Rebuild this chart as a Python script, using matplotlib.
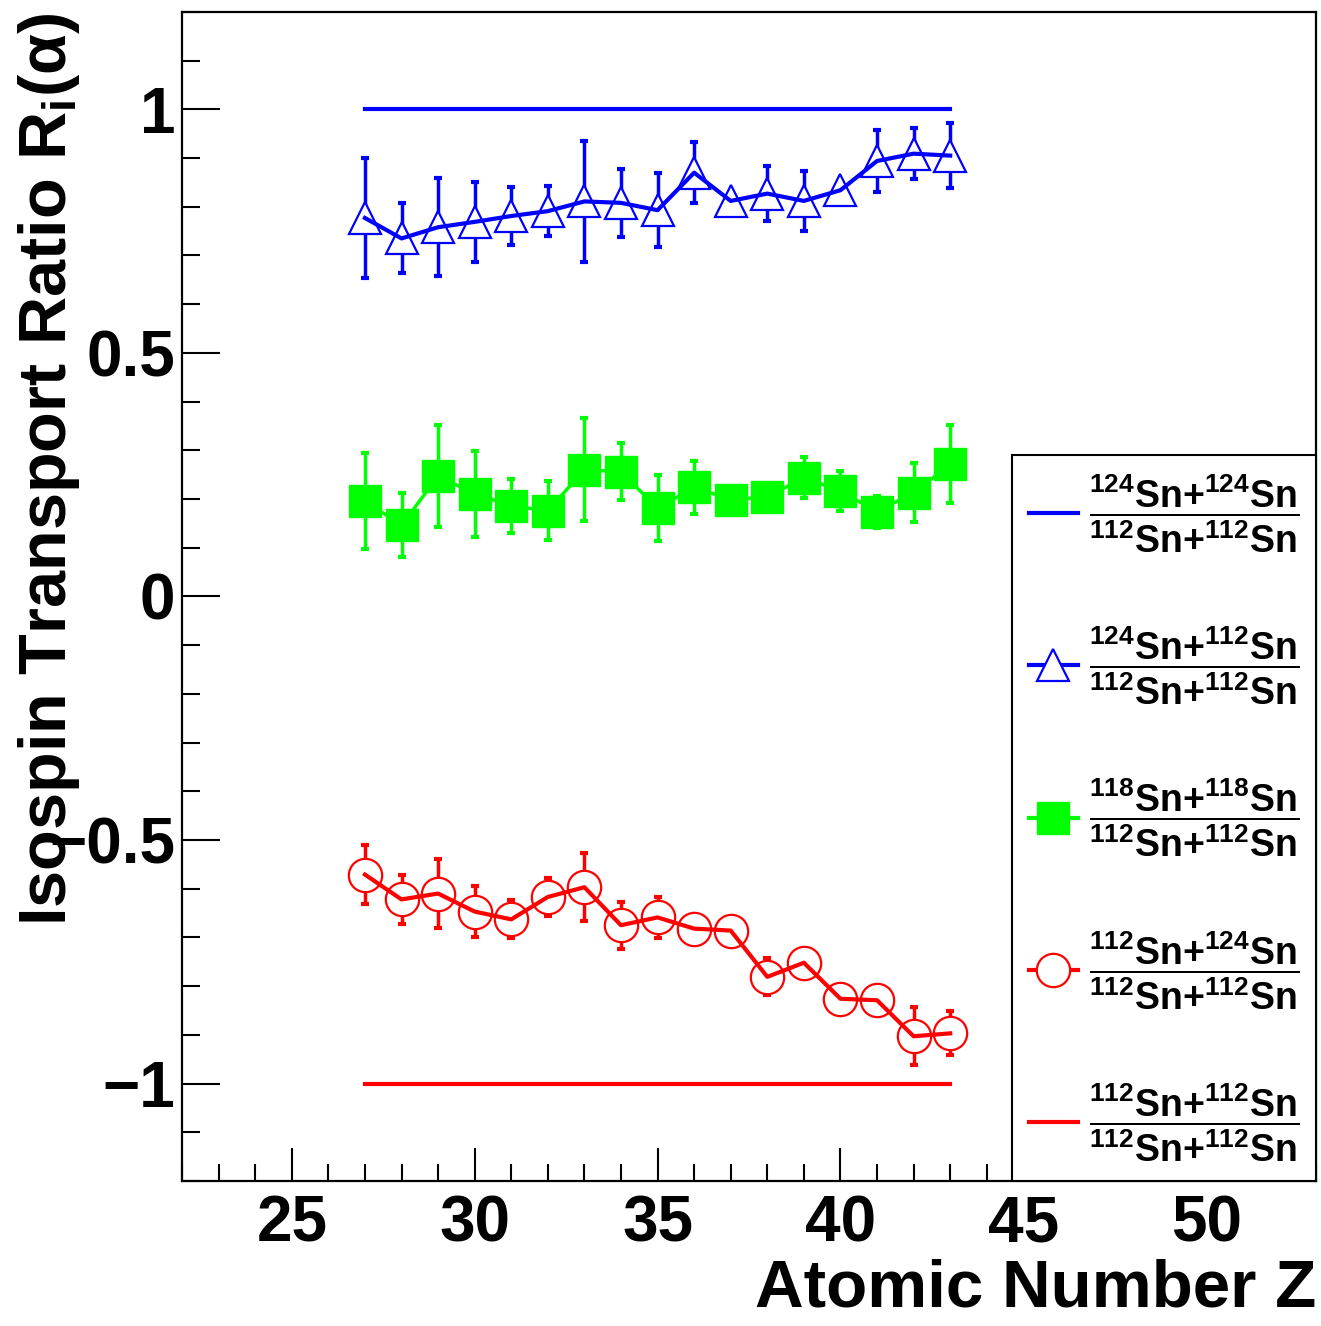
import matplotlib
matplotlib.use("Agg")
import matplotlib.pyplot as plt
import numpy as np
from matplotlib.ticker import MultipleLocator

plt.rcParams['font.family'] = ['Liberation Sans', 'DejaVu Sans']
plt.rcParams['font.weight'] = 'bold'
plt.rcParams['mathtext.fontset'] = 'custom'
plt.rcParams['mathtext.rm'] = 'Liberation Sans:bold'
plt.rcParams['mathtext.it'] = 'Liberation Sans:bold'
plt.rcParams['mathtext.bf'] = 'Liberation Sans:bold'
plt.rcParams['mathtext.sf'] = 'Liberation Sans:bold'

# atomic number of the fragments
Z = np.arange(27, 44)

# 124Sn+112Sn (blue triangles)
r_124_112 = [0.777, 0.735, 0.758, 0.769, 0.781, 0.791, 0.811, 0.808, 0.793,
             0.870, 0.812, 0.827, 0.812, 0.834, 0.894, 0.909, 0.905]
e_124_112 = [0.124, 0.072, 0.101, 0.082, 0.059, 0.051, 0.124, 0.070, 0.076,
             0.063, 0.015, 0.056, 0.061, 0.015, 0.064, 0.053, 0.067]

# 118Sn+118Sn (green squares)
r_118_118 = [0.196, 0.146, 0.247, 0.211, 0.186, 0.176, 0.260, 0.256, 0.181,
             0.224, 0.199, 0.204, 0.244, 0.216, 0.174, 0.213, 0.271]
e_118_118 = [0.098, 0.066, 0.104, 0.088, 0.056, 0.060, 0.106, 0.059, 0.068,
             0.054, 0.015, 0.015, 0.042, 0.041, 0.033, 0.060, 0.080]

# 112Sn+124Sn (red circles)
r_112_124 = [-0.571, -0.622, -0.610, -0.647, -0.663, -0.617, -0.597, -0.675, -0.659,
             -0.682, -0.686, -0.781, -0.752, -0.826, -0.829, -0.903, -0.897]
e_112_124 = [0.060, 0.050, 0.071, 0.052, 0.039, 0.039, 0.070, 0.048, 0.042,
             0.015, 0.015, 0.038, 0.015, 0.015, 0.015, 0.060, 0.045]

# reference systems
r_124_124 = [1.0] * len(Z)
r_112_112 = [-1.0] * len(Z)

blue = (0, 0, 1)
green = (0, 1, 0)
red = (1, 0, 0)

fig = plt.figure(figsize=(13.21, 13.26), dpi=100)
ax = fig.add_axes([0.1378, 0.1094, 0.8584, 0.8816])

ax.plot(Z, r_124_124, color=blue, lw=3, zorder=2)
ax.plot(Z, r_112_112, color=red, lw=3, zorder=2)

# error bars first, then markers, then connecting lines on top
for y, e, c in [(r_124_112, e_124_112, blue), (r_118_118, e_118_118, green),
                (r_112_124, e_112_124, red)]:
    ax.errorbar(Z, y, yerr=e, fmt='none', ecolor=c, elinewidth=2.5,
                capsize=3, capthick=3, zorder=1)

ax.plot(Z, r_124_112, ls='none', marker='^', ms=23, mfc='white', mec=blue,
        mew=1.6, zorder=3)
ax.plot(Z, r_118_118, ls='none', marker='s', ms=23, mfc=green, mec=green,
        zorder=3)
ax.plot(Z, r_112_124, ls='none', marker='o', ms=24, mfc='white', mec=red,
        mew=1.6, zorder=3)
ax.plot(Z, r_124_112, color=blue, lw=3, zorder=4)
ax.plot(Z, r_118_118, color=green, lw=2.5, zorder=2)
ax.plot(Z, r_112_124, color=red, lw=3, zorder=4)

ax.set_xlim(22, 53)
ax.set_ylim(-1.2, 1.2)
ax.xaxis.set_major_locator(MultipleLocator(5))
ax.xaxis.set_minor_locator(MultipleLocator(1))
ax.yaxis.set_major_locator(MultipleLocator(0.5))
ax.yaxis.set_minor_locator(MultipleLocator(0.1))
ax.yaxis.set_major_formatter(plt.FuncFormatter(
    lambda v, p: '0' if abs(v) < 1e-9 else ('%g' % v).replace('-', '\u2212')))

ax.tick_params(which='both', direction='in', top=False, right=False, width=1.5,
               labelsize=46, colors='black')
ax.tick_params(axis='x', which='major', length=24, pad=10)
ax.tick_params(axis='x', which='minor', length=12)
ax.tick_params(axis='y', which='major', length=27, pad=5)
ax.tick_params(axis='y', which='minor', length=13)
for s in ax.spines.values():
    s.set_linewidth(1.6)

ax.set_xlabel('Atomic Number Z', fontsize=48.5, fontweight='bold', loc='right')
ax.xaxis.set_label_coords(1.0, -0.066)
ax.set_ylabel(r'Isospin Transport Ratio R$_{\mathrm{i}}$($\alpha$)',
              fontsize=48, fontweight='bold', loc='top')
ax.yaxis.set_label_coords(-0.088, 1.0)

def frac(a, b, c, d):
    return (r'$\dfrac{{}^{%s}\mathrm{Sn{+}}{}^{%s}\mathrm{Sn}}'
            r'{{}^{%s}\mathrm{Sn{+}}{}^{%s}\mathrm{Sn}}$' % (a, b, c, d))

handles = [
    plt.Line2D([], [], color=blue, lw=3),
    plt.Line2D([], [], color=blue, lw=3, marker='^', ms=23, mfc='white', mec=blue, mew=1.6),
    plt.Line2D([], [], color=green, lw=3, marker='s', ms=23, mfc=green, mec=green),
    plt.Line2D([], [], color=red, lw=3, marker='o', ms=24, mfc='white', mec=red, mew=1.6),
    plt.Line2D([], [], color=red, lw=3),
]
labels = [frac('124', '124', '112', '112'), frac('124', '112', '112', '112'),
          frac('118', '118', '112', '112'), frac('112', '124', '112', '112'),
          frac('112', '112', '112', '112')]
leg = ax.legend(handles, labels, loc='lower right', bbox_to_anchor=(1.0, 0.0),
                borderaxespad=0, fontsize=27, frameon=True, fancybox=False,
                edgecolor='black', framealpha=1, handlelength=1.3,
                handletextpad=0.3, labelspacing=1.85, borderpad=0.45)
leg.get_frame().set_linewidth(1.5)

fig.savefig('out.png', dpi=100)
